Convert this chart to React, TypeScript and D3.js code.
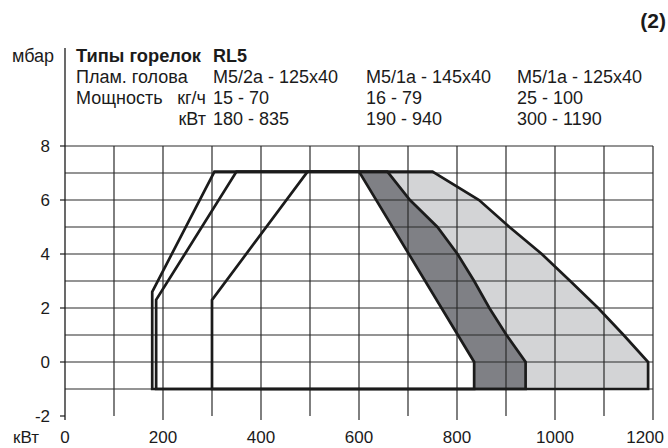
import { useMemo } from "react";
import * as d3 from "d3";

type Pt = [number, number];

const xTicks = [0, 200, 400, 600, 800, 1000, 1200];
const yTicks = [-2, 0, 2, 4, 6, 8];

const burnerModel = "RL5";
const headNames = ["M5/2a - 125x40", "M5/1a - 145x40", "M5/1a - 125x40"];
const outputKgH = ["15 - 70", "16 - 79", "25 - 100"];
const outputKw = ["180 - 835", "190 - 940", "300 - 1190"];

// working fields, kW / mbar
const fieldA: Pt[] = [[178, -1], [178, 2.6], [305, 7.05], [600, 7.05], [835, 0], [835, -1]];
const fieldB: Pt[] = [
  [186, -1], [186, 2.3], [350, 7.05], [658, 7.05], [704, 6], [760, 5], [801, 4],
  [835, 3], [866, 2], [901, 1], [940, 0], [940, -1],
];
const fieldC: Pt[] = [
  [300, -1], [300, 2.3], [495, 7.05], [750, 7.05], [845, 6], [907, 5], [973, 4],
  [1031, 3], [1088, 2], [1140, 1], [1190, 0], [1190, -1],
];

const FONT = "'Liberation Sans', Arial, sans-serif";
const INK = "#1b1b1b";

export default function App() {
  const x = d3.scaleLinear().domain([0, 1200]).range([65, 653]);
  const y = d3.scaleLinear().domain([-2, 8]).range([416, 146]);

  const line = useMemo(
    () => d3.line<Pt>().x((d) => x(d[0])).y((d) => y(d[1])),
    []
  );

  const fills: [Pt[], string][] = [
    [fieldC, "#d3d4d6"],
    [fieldB, "#7f8085"],
    [fieldA, "#ffffff"],
  ];

  const cols = [213, 366, 517];
  const rows = [62, 83, 104, 125];

  return (
    <svg
      width={668}
      height={448}
      style={{ position: "absolute", left: 0, top: 0, fontFamily: FONT }}
    >
      <rect width={668} height={448} fill="#fff" />
      {fills.map(([pts, c], i) => (
        <path key={i} d={line(pts) + "Z"} fill={c} />
      ))}

      {/* grid */}
      {d3.range(-1, 9).map((v) => (
        <line key={"h" + v} x1={x(0)} x2={x(1200)} y1={y(v)} y2={y(v)} stroke="#2a2a2a" strokeWidth={1.2} />
      ))}
      {d3.range(100, 1300, 100).map((v) => (
        <line
          key={"v" + v}
          x1={x(v)}
          x2={x(v)}
          y1={y(8)}
          y2={y(-2) + (v % 200 === 0 ? 4 : 0)}
          stroke="#2a2a2a"
          strokeWidth={1.2}
        />
      ))}
      <line x1={x(0)} x2={x(0)} y1={48} y2={y(-2) + 4} stroke={INK} strokeWidth={1.3} />
      {yTicks.map((v) => (
        <g key={"yt" + v}>
          <line x1={x(0) - 5} x2={x(0)} y1={y(v)} y2={y(v)} stroke={INK} strokeWidth={1.2} />
          <text x={50} y={y(v)} dy="0.35em" textAnchor="end" fontSize={17} fill={INK}>
            {v}
          </text>
        </g>
      ))}
      {xTicks.map((v, i) => (
        <text
          key={"xt" + v}
          x={i === xTicks.length - 1 ? 664 : x(v)}
          y={443}
          textAnchor={i === xTicks.length - 1 ? "end" : "middle"}
          fontSize={17}
          fill={INK}
        >
          {v}
        </text>
      ))}
      <text x={13} y={443} fontSize={17} fill={INK}>кВт</text>

      {/* outlines */}
      {[fieldC, fieldB, fieldA].map((pts, i) => (
        <path
          key={"o" + i}
          d={line(pts) + "Z"}
          fill="none"
          stroke={INK}
          strokeWidth={2.7}
          strokeLinejoin="miter"
        />
      ))}

      {/* header */}
      <text x={666} y={28} textAnchor="end" fontSize={21} fontWeight="bold" fill={INK}>(2)</text>
      <text x={12} y={rows[0]} fontSize={18} fill={INK}>мбар</text>
      <g fontSize={18} fill={INK}>
        <text x={76} y={rows[0]} fontWeight="bold" textLength={125} lengthAdjust="spacingAndGlyphs">
          Типы горелок
        </text>
        <text x={cols[0]} y={rows[0]} fontWeight="bold">{burnerModel}</text>
        <text x={76} y={rows[1]}>Плам. голова</text>
        <text x={76} y={rows[2]}>Мощность</text>
        <text x={206} y={rows[2]} textAnchor="end">кг/ч</text>
        <text x={206} y={rows[3]} textAnchor="end">кВт</text>
        {headNames.map((t, i) => (
          <text key={"hn" + i} x={cols[i]} y={rows[1]}>{t}</text>
        ))}
        {outputKgH.map((t, i) => (
          <text key={"kg" + i} x={cols[i]} y={rows[2]}>{t}</text>
        ))}
        {outputKw.map((t, i) => (
          <text key={"kw" + i} x={cols[i]} y={rows[3]}>{t}</text>
        ))}
      </g>
    </svg>
  );
}
